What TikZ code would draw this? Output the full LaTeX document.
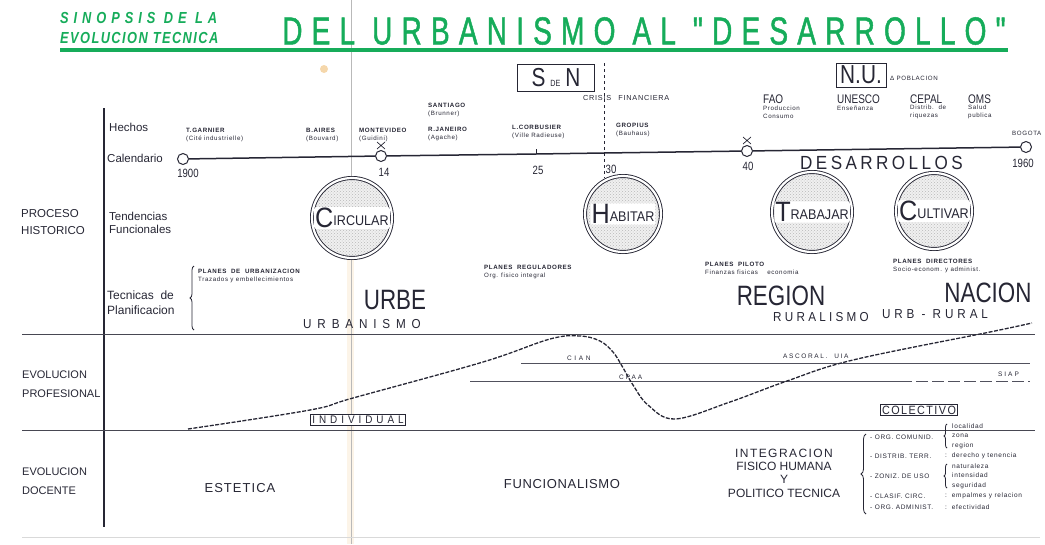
\documentclass[tikz,border=0pt]{standalone}
\usepackage{fontspec}
\setmainfont{Liberation Sans}
\newfontfamily\narrowfont[FakeStretch=0.8]{Liberation Sans}
\newfontfamily\titlefont[FakeStretch=0.72, FakeBold=1.2]{Liberation Sans}
\newfontfamily\wordfont[FakeStretch=0.9]{Liberation Sans}
\newfontfamily\smallfont[LetterSpace=10]{Liberation Sans}
\usepackage{graphicx}
\usepackage{tikz}
\usetikzlibrary{positioning}
\usetikzlibrary{decorations.pathreplacing}
\usetikzlibrary{patterns}

\definecolor{ink}{RGB}{38,38,52}
\definecolor{titlegreen}{RGB}{22,172,90}
\definecolor{stain}{RGB}{242,205,150}

% big initial + small rest, for the tendencies
\newcommand{\initword}[2]{{\fontsize{28}{28}\selectfont #1}\raisebox{2.5pt}{#2}}

\tikzset{
  txt/.style={anchor=west, inner sep=0pt, text=ink, align=left},
  head/.style={txt, font=\fontsize{11.5}{16.5}\selectfont},
  evt/.style={txt, font=\smallfont\fontsize{6.2}{8}\selectfont},
  note/.style={txt, font=\smallfont\fontsize{6.5}{9.5}\selectfont},
  agency/.style={txt, font=\narrowfont\fontsize{12.5}{12.5}\selectfont},
  yearlbl/.style={inner sep=0pt, text=ink, font=\narrowfont\fontsize{12}{12}\selectfont},
  yeardot/.style={circle, draw=ink, fill=white, line width=1pt, minimum size=11pt, inner sep=0pt},
  big/.style={inner sep=0pt, text=ink, font=\narrowfont\fontsize{28}{28}\selectfont},
  spaced/.style={inner sep=0pt, text=ink, font=\wordfont\fontsize{13}{13}\selectfont},
  tend/.style={circle, draw=ink, line width=0.9pt, double=white, double distance=2.2pt,
    inner sep=0pt, preaction={fill=gray!12}, pattern=crosshatch dots, pattern color=gray!55},
  tword/.style={fill=white, rounded corners=2pt, inner sep=1pt, text=ink,
    font=\wordfont\fontsize{14}{14}\selectfont},
  tag/.style={draw=ink, line width=1pt, inner sep=2pt, text=ink},
  sep/.style={draw=ink!85, line width=1pt},
  curve/.style={draw=ink, line width=1.3pt, dash pattern=on 4pt off 1.5pt},
  bracer/.style={draw=ink, line width=0.8pt, decorate, decoration={brace, amplitude=#1}},
  bracer/.default=4pt
}

\begin{document}
\begin{tikzpicture}[x=1pt, y=-1pt]
\useasboundingbox (0,0) rectangle (1045,544);
% paper fold and stain
\fill[stain, opacity=0.22] (347,240) rectangle (354,544);
\fill[stain, opacity=0.8] (324,69) circle (4pt);
\draw[gray!55, line width=0.6pt] (351,0) -- (351,544);

% title
\node[anchor=west, inner sep=0pt, text=titlegreen, font=\bfseries\itshape\narrowfont\fontsize{16}{16}\selectfont] (sinopsis) at (60,18) {\addfontfeatures{LetterSpace=31}SINOPSIS DE LA};
\node[anchor=west, inner sep=0pt, text=titlegreen, font=\bfseries\itshape\narrowfont\fontsize{16}{16}\selectfont] (evtecnica) at (60,38) {\addfontfeatures{LetterSpace=9}EVOLUCION TECNICA};
\node[anchor=west, inner sep=0pt, text=titlegreen, font=\titlefont\fontsize{39}{39}\selectfont] (title) at (282,31) {\addfontfeatures{LetterSpace=23.5}DEL URBANISMO AL "DESARROLLO"};
\draw[titlegreen, line width=4pt] (60,50) -- (1008,50);

% axis and row labels
\draw[ink, line width=1.2pt] (104,108) -- (104,527);
\node[head] (hechos) at (109,127) {Hechos};
\node[head] (calendario) at (107,158) {Calendario};
\node[head] (proceso) at (21,222) {PROCESO\\HISTORICO};
\node[txt, font=\fontsize{11.5}{13.5}\selectfont] (tendencias) at (109,223) {Tendencias\\Funcionales};
\node[txt, font=\fontsize{12}{15}\selectfont] (tecnicas) at (107,303) {Tecnicas~~de\\Planificacion};
\node[txt, font=\fontsize{11}{19}\selectfont] (evprof) at (22,384) {EVOLUCION\\PROFESIONAL};
\node[txt, font=\fontsize{11}{19}\selectfont] (evdoc) at (22,481) {EVOLUCION\\DOCENTE};

% calendar
\node[yeardot] (y1900) at (183,159) {};
\node[yeardot] (y1914) at (381,156) {};
\coordinate (y1925) at (536,154);
\coordinate (y1930) at (604,153);
\node[yeardot] (y1940) at (747,151) {};
\node[yeardot] (y1960) at (1026,147) {};
\draw[ink, line width=1.5pt] (y1900) -- (y1914) -- (y1925) -- (y1930) -- (y1940) -- (y1960);
\draw[ink, line width=0.8pt] (536,149) -- (536,154);
\draw[ink, line width=0.7pt] (377,142) -- (385,149) (385,142) -- (377,149);
\draw[ink, line width=0.7pt] (743,137) -- (751,144) (751,137) -- (743,144);
\node[yearlbl] at (188,173) {1900};
\node[yearlbl] at (384,172) {14};
\node[yearlbl] at (538,170) {25};
\node[yearlbl] at (611,169) {30};
\node[yearlbl] at (748,166) {40};
\node[yearlbl] at (1023,163) {1960};
\node[anchor=west, inner sep=0pt, text=ink, font=\wordfont\fontsize{19}{19}\selectfont] (desarrollos) at (800,163) {\addfontfeatures{LetterSpace=18}DESARROLLOS};

% facts
\node[evt] (garnier) at (186,135) {\textbf{T.GARNIER}\\(Cité industrielle)};
\node[evt] (baires) at (306,135) {\textbf{B.AIRES}\\(Bouvard)};
\node[evt] (montevideo) at (359,135) {\textbf{MONTEVIDEO}\\(Guidini)};
\node[evt] (santiago) at (428,110) {\textbf{SANTIAGO}\\(Brunner)};
\node[evt] (janeiro) at (428,134) {\textbf{R.JANEIRO}\\(Agache)};
\node[evt] (corbusier) at (512,132) {\textbf{L.CORBUSIER}\\(Ville Radieuse)};
\node[evt] (gropius) at (616,130) {\textbf{GROPIUS}\\(Bauhaus)};
\node[tag, minimum width=77pt, minimum height=27pt, font=\narrowfont] (sden) at (556,78) {\fontsize{26}{26}\selectfont S\hspace{5pt}{\fontsize{9}{9}\selectfont DE}\hspace{5pt}N};
\coordinate (crisistop) at (604,63);
\coordinate (crisisbot) at (604,178);
\draw[ink, dashed, line width=0.8pt] (crisistop) -- (crisisbot);
\node[note, font=\smallfont\fontsize{7.3}{9}\selectfont] (crisis) at (583,98) {CRISIS\quad FINANCIERA};
\node[tag, minimum width=50pt, minimum height=24pt, font=\narrowfont\fontsize{26}{26}\selectfont] (nu) at (861,75) {N.U.};
\node[evt] (poblacion) at (890,78) {Δ POBLACION};
\node[agency] (fao) at (763,99) {FAO};
\node[evt] at (763,112) {Produccion\\Consumo};
\node[agency] (unesco) at (837,99) {UNESCO};
\node[evt] at (837,108) {Enseñanza};
\node[agency] (cepal) at (910,99) {CEPAL};
\node[evt] at (910,112) {Distrib.~~de\\riquezas};
\node[agency] (oms) at (968,99) {OMS};
\node[evt] at (968,112) {Salud\\publica};
\node[evt] (bogota) at (1012,133) {BOGOTA};

% functional tendencies
\node[tend, minimum size=80pt] (circular) at (352,218) {};
\node[tword] (circularlbl) at (circular) {\initword{C}{IRCULAR}};
\node[tend, minimum size=76pt] (habitar) at (623,214) {};
\node[tword] (habitarlbl) at (habitar) {\initword{H}{ABITAR}};
\node[tend, minimum size=80pt] (trabajar) at (812,212) {};
\node[tword] (trabajarlbl) at (trabajar) {\initword{T}{RABAJAR}};
\node[tend, minimum size=76pt] (cultivar) at (934,211) {};
\node[tword] (cultivarlbl) at (cultivar) {\initword{C}{ULTIVAR}};

% planning techniques
\draw[bracer] (194,330) -- (194,266);
\node[evt] (urbaniz) at (198,276) {\textbf{PLANES~~DE~~URBANIZACION}\\Trazados y embellecimientos};
\node[evt] (reguladores) at (484,272) {\textbf{PLANES~~REGULADORES}\\Org. fisico integral};
\node[evt] (piloto) at (705,268) {\textbf{PLANES~~PILOTO}\\Finanzas fisicas~~~~economia};
\node[evt] (directores) at (893,266) {\textbf{PLANES~~DIRECTORES}\\Socio-econom. y administ.};
\node[big] (urbe) at (395,300) {URBE};
\node[big] (region) at (781,296) {REGION};
\node[big] (nacion) at (988,293) {NACION};
\node[spaced] (urbanismo) at (362,324) {\addfontfeatures{LetterSpace=45}URBANISMO};
\node[spaced] (ruralismo) at (821,317) {\addfontfeatures{LetterSpace=25}RURALISMO};
\node[spaced] (urbrural) at (935,314) {\addfontfeatures{LetterSpace=30}URB - RURAL};

% professional evolution
\draw[sep] (22,334) -- (1035,334);
\draw[sep] (22,430) -- (1035,430);
\coordinate (cianL) at (521,363);
\coordinate (cianR) at (1030,363);
\draw[ink!80, line width=0.8pt] (cianL) -- (cianR);
\coordinate (cpaaL) at (470,381);
\coordinate (cpaaM) at (900,381);
\coordinate (cpaaR) at (1030,381);
\draw[ink!80, line width=0.8pt] (cpaaL) -- (cpaaM);
\draw[ink!80, line width=0.8pt, dash pattern=on 12pt off 4pt] (cpaaM) -- (cpaaR);
\node[note] (cian) at (567,358) {\addfontfeatures{LetterSpace=40}CIAN};
\node[note] (cpaa) at (619,377) {\addfontfeatures{LetterSpace=30}CPAA};
\node[note] (ascoral) at (783,356) {\addfontfeatures{LetterSpace=25}ASCORAL.~~UIA};
\node[note] (siap) at (998,374) {\addfontfeatures{LetterSpace=30}SIAP};
\draw[curve] plot[smooth, tension=0.6] coordinates {(188,429) (310,410) (353,398) (483,362) (550,339) (580,336) (600,341) (613,352) (622,366) (633,385) (648,405) (675,419) (730,402) (787,381) (853,360) (990,332) (1032,323)};
\node[tag, fill=white, inner sep=1.5pt, font=\wordfont\fontsize{11}{11}\selectfont] (individual) at (358,420) {\addfontfeatures{LetterSpace=36}INDIVIDUAL};
\node[tag, fill=white, inner sep=1.5pt, font=\wordfont\fontsize{12}{12}\selectfont] (colectivo) at (919,410) {\addfontfeatures{LetterSpace=12}COLECTIVO};

% teaching evolution
\draw[gray!30, line width=0.8pt] (22,537) -- (1040,537);
\node[spaced, font=\fontsize{13}{13}\selectfont] (estetica) at (240,488) {\addfontfeatures{LetterSpace=8}ESTETICA};
\node[spaced, font=\fontsize{13}{13}\selectfont] (funcionalismo) at (562,484) {\addfontfeatures{LetterSpace=5}FUNCIONALISMO};
\node[inner sep=0pt, text=ink, align=center, font=\fontsize{12}{13.3}\selectfont] (integracion) at (784,473) {{\addfontfeatures{LetterSpace=12}INTEGRACION}\\FISICO HUMANA\\Y\\POLITICO TECNICA};
\draw[bracer=5pt] (866,514) -- (866,434);
\node[note] (comunid) at (870,437) {-~ORG. COMUNID.};
\node[note] (distrib) at (870,456) {-~DISTRIB. TERR.};
\node[note] (zoniz) at (870,476) {-~ZONIZ. DE USO};
\node[note] (clasif) at (870,496) {-~CLASIF. CIRC.};
\node[note] (administ) at (870,507) {-~ORG. ADMINIST.};
\draw[bracer=3pt] (947,448) -- (947,424);
\draw[bracer=3pt] (947,488) -- (947,464);
\node[note] (comunidlist) at (952,436) {localidad\\zona\\region};
\node[note] (zonizlist) at (952,476) {naturaleza\\intensidad\\seguridad};
\node[note] (distribtxt) at (945,456) {:~~derecho y tenencia};
\node[note] (clasiftxt) at (945,496) {:~~empalmes y relacion};
\node[note] (administxt) at (945,507) {:~~efectividad};
\end{tikzpicture}
\end{document}
